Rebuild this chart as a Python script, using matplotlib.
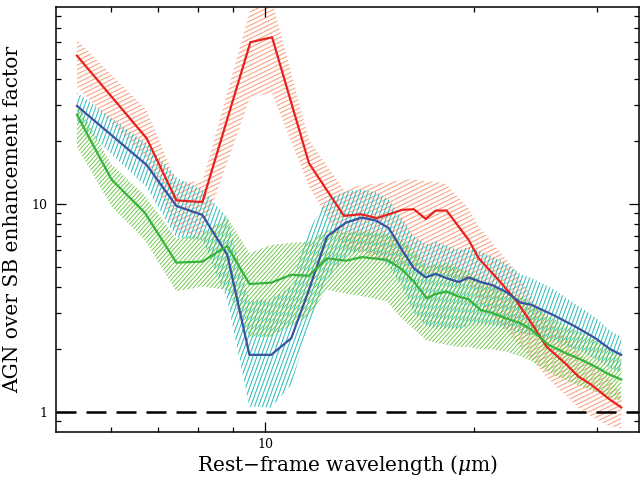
import numpy as np
import matplotlib
matplotlib.use("Agg")
import matplotlib.pyplot as plt
from matplotlib.collections import LineCollection
from matplotlib.transforms import IdentityTransform
from matplotlib.ticker import FixedLocator, FixedFormatter, NullFormatter

# ---------------- data ----------------
red_wl = [5.36, 6.75, 7.45, 8.12, 9.52, 10.23, 11.56, 12.98, 13.73, 14.48, 15.73, 16.36,
          17.02, 17.59, 18.24, 19.62, 20.28, 21.66, 22.92, 24.16, 25.39, 27.03, 28.22,
          29.46, 31.17, 32.53]
red_val = [51.6, 20.7, 10.4, 10.2, 59.9, 63.3, 15.7, 8.76, 8.92, 8.54, 9.36, 9.43,
           8.47, 9.29, 9.29, 6.71, 5.48, 4.31, 3.46, 2.67, 2.06, 1.71, 1.48,
           1.35, 1.16, 1.05]
red_hi = [61.4, 28.3, 12.8, 12.8, 85.7, 95.0, 20.3, 11.7, 12.3, 12.5, 13.0, 13.2,
          12.8, 12.8, 12.4, 9.5, 7.8, 6.0, 4.8, 3.6, 2.8, 2.3, 1.95,
          1.7, 1.45, 1.23]
red_lo = [36.6, 16.3, 7.2, 7.2, 32.8, 34.0, 12.1, 6.2, 5.8, 5.5, 5.0, 4.8,
          4.6, 4.6, 4.5, 4.2, 3.4, 2.7, 2.2, 1.8, 1.47, 1.2, 1.05,
          0.95, 0.86, 0.83]

blue_wl = [5.36, 6.75, 7.45, 8.12, 8.82, 9.49, 10.20, 10.90, 11.56, 12.27, 13.07,
           13.78, 14.43, 15.06, 15.73, 16.36, 17.02, 17.59, 18.24, 18.98, 19.62,
           20.41, 21.17, 22.17, 23.30, 24.16, 25.98, 27.94, 29.85, 31.37, 32.53]
blue_val = [29.6, 15.4, 9.78, 8.85, 5.69, 1.88, 1.88, 2.26, 3.86, 6.97, 8.13,
            8.59, 8.32, 7.65, 6.01, 4.91, 4.43, 4.61, 4.39, 4.21, 4.43,
            4.21, 4.08, 3.79, 3.35, 3.27, 2.92, 2.57, 2.26, 2.00, 1.88]
blue_hi = [34.3, 19.5, 13.4, 11.7, 8.6, 3.4, 3.5, 4.0, 7.5, 10.5, 11.5,
           11.7, 11.4, 10.5, 8.5, 7.0, 6.4, 6.6, 6.3, 6.0, 6.2,
           5.9, 5.6, 5.2, 4.6, 4.4, 3.9, 3.3, 2.85, 2.45, 2.3]
blue_lo = [25.0, 12.0, 6.9, 6.7, 3.45, 1.06, 1.05, 1.35, 2.6, 4.3, 5.6,
           6.0, 5.7, 5.0, 4.0, 3.0, 2.6, 2.5, 2.5, 2.5, 2.6,
           2.6, 2.6, 2.5, 2.4, 2.35, 2.2, 2.0, 1.8, 1.62, 1.55]

green_wl = [5.36, 6.01, 6.71, 7.45, 8.12, 8.82, 9.49, 10.20, 10.90, 11.56, 12.27,
            13.07, 13.78, 14.96, 15.73, 16.36, 17.08, 17.59, 18.24, 18.98, 19.62,
            20.41, 21.17, 22.17, 23.30, 24.16, 25.56, 27.03, 28.50, 29.85, 31.17, 32.53]
green_val = [26.8, 13.1, 9.08, 5.22, 5.28, 6.28, 4.12, 4.18, 4.56, 4.51, 5.48,
             5.33, 5.55, 5.38, 4.85, 4.23, 3.52, 3.69, 3.79, 3.58, 3.48,
             3.09, 3.00, 2.82, 2.67, 2.48, 2.10, 1.92, 1.78, 1.65, 1.52, 1.43]
green_hi = [30.5, 15.5, 11.0, 6.8, 7.2, 8.6, 5.8, 6.35, 6.5, 6.6, 7.5,
            7.25, 7.4, 7.2, 6.7, 5.9, 5.0, 5.1, 5.2, 4.9, 4.7,
            4.3, 4.1, 3.8, 3.6, 3.35, 2.9, 2.6, 2.4, 2.2, 2.0, 1.85]
green_lo = [18.8, 9.7, 6.7, 3.8, 4.0, 3.86, 2.3, 2.3, 2.6, 2.9, 3.86,
            3.7, 3.6, 3.4, 2.8, 2.5, 2.2, 2.15, 2.1, 2.05, 2.05,
            2.0, 2.0, 1.95, 1.85, 1.75, 1.55, 1.42, 1.32, 1.25, 1.18, 1.12]

x_major = [10]
x_minor = [6, 7, 8, 9, 20, 30]
y_major = [1, 10]
y_minor = [0.9, 2, 3, 4, 5, 6, 7, 8, 9, 20, 30, 40, 50, 60, 70, 80]

# ---------------- figure ----------------
plt.rcParams["mathtext.fontset"] = "dejavuserif"
W, H, DPI = 641, 483, 100
fig = plt.figure(figsize=(W / DPI, H / DPI), dpi=DPI)
ax = fig.add_axes([56 / W, 1 - 432 / H, (639 - 56) / W, (432 - 7) / H])
ax.set_xscale("log")
ax.set_yscale("log")
ax.set_xlim(5.0, 34.5)
ax.set_ylim(0.80, 88.5)


def hatch(x, lo, hi, color, angle, spacing, lw, z):
    poly = ax.fill_between(x, lo, hi, facecolor="none", edgecolor="none")
    x0, y0, x1, y1 = ax.bbox.extents
    a = np.deg2rad(angle)
    d = np.array([np.cos(a), np.sin(a)])
    n = np.array([-np.sin(a), np.cos(a)])
    corners = np.array([[x0, y0], [x0, y1], [x1, y0], [x1, y1]])
    proj = corners @ n
    L = 2 * np.hypot(x1 - x0, y1 - y0)
    segs = []
    for off in np.arange(proj.min(), proj.max(), spacing):
        c = n * off + d * (corners @ d).mean()
        segs.append([c - d * L, c + d * L])
    lc = LineCollection(segs, colors=color, linewidths=lw,
                        transform=IdentityTransform(), zorder=z)
    ax.add_collection(lc, autolim=False)
    lc.set_clip_box(ax.bbox)
    lc.set_clip_path(poly.get_paths()[0], ax.transData)


hatch(red_wl, red_lo, red_hi, "#fb9f7c", 26, 4.0, 0.75, 1)
hatch(blue_wl, blue_lo, blue_hi, "#33bdbd", 70, 3.7, 0.75, 2)
hatch(green_wl, green_lo, green_hi, "#72c94e", 48, 3.1, 0.7, 3)

ax.plot(red_wl, red_val, color="#e8221e", lw=1.6, zorder=5)
ax.plot(blue_wl, blue_val, color="#3a52a2", lw=1.6, zorder=5)
ax.plot(green_wl, green_val, color="#35b43c", lw=1.6, zorder=5)

ax.axhline(1.0, color="black", lw=1.8, ls=(0, (8, 4)), zorder=6)

# ticks
ax.xaxis.set_major_locator(FixedLocator(x_major))
ax.xaxis.set_minor_locator(FixedLocator(x_minor))
ax.xaxis.set_major_formatter(FixedFormatter([str(v) for v in x_major]))
ax.xaxis.set_minor_formatter(NullFormatter())
ax.yaxis.set_major_locator(FixedLocator(y_major))
ax.yaxis.set_minor_locator(FixedLocator(y_minor))
ax.yaxis.set_major_formatter(FixedFormatter([str(v) for v in y_major]))
ax.yaxis.set_minor_formatter(NullFormatter())
ax.tick_params(which="both", direction="in", top=True, right=True, width=0.9,
               labelsize=9)
ax.tick_params(which="major", length=7)
ax.tick_params(axis="x", which="major", pad=4)
ax.tick_params(axis="y", which="major", pad=6)
ax.tick_params(which="minor", length=3.5)
for lab in ax.get_xticklabels() + ax.get_yticklabels():
    lab.set_family("DejaVu Serif")
for sp in ax.spines.values():
    sp.set_linewidth(1.1)

ax.set_xlabel("Rest\u2212frame wavelength ($\\mu$m)", family="DejaVu Serif",
              fontsize=14.5, labelpad=2)
ax.set_ylabel("AGN over SB enhancement factor", family="DejaVu Serif",
              fontsize=14.5, labelpad=7)

fig.savefig("out.png", dpi=DPI)
